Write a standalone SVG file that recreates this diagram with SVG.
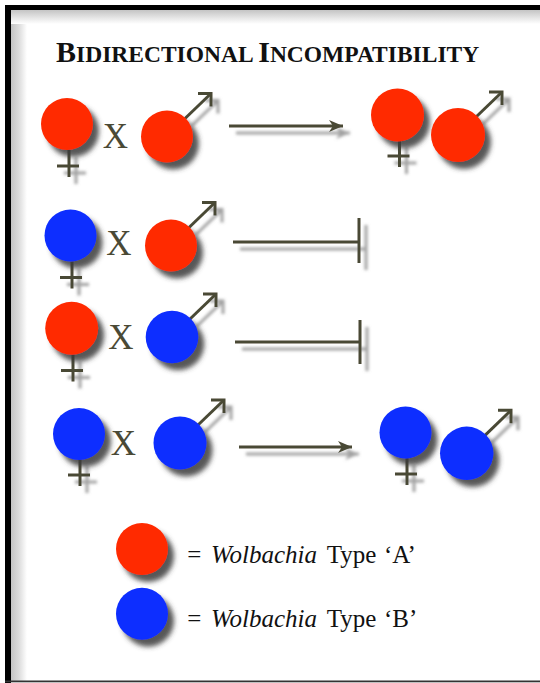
<svg xmlns="http://www.w3.org/2000/svg" width="540" height="683" viewBox="0 0 540 683">
<style>
.red{fill:#ff2a00}
.blue{fill:#0b2dff}
.sym{stroke:#4a4935;stroke-width:3;fill:none;stroke-linecap:butt}
.conn{stroke:#4a4935;stroke-width:3;fill:none}
.x{font-family:"Liberation Serif","Times New Roman",serif;font-size:35px;fill:#4a4935;text-anchor:middle}
.leg{font-family:"Liberation Serif","Times New Roman",serif;font-size:25px;fill:#111}
.title{font-family:"Liberation Serif","Times New Roman",serif;font-weight:bold;fill:#111}
</style>
<defs>
<linearGradient id="gl" x1="0" y1="0" x2="1" y2="0">
<stop offset="0" stop-color="#c4c4c4"/><stop offset="0.5" stop-color="#dcdcdc"/><stop offset="1" stop-color="#fff"/>
</linearGradient>
<linearGradient id="gt" x1="0" y1="0" x2="0" y2="1">
<stop offset="0" stop-color="#c4c4c4"/><stop offset="0.5" stop-color="#e2e2e2"/><stop offset="1" stop-color="#fff"/>
</linearGradient>
<filter id="sh" filterUnits="userSpaceOnUse" x="0" y="0" width="540" height="683">
<feGaussianBlur in="SourceAlpha" stdDeviation="2.5"/>
<feOffset dx="6" dy="7" result="b"/>
<feFlood flood-color="#3a3a3a" flood-opacity="0.85"/>
<feComposite in2="b" operator="in"/>
<feMerge><feMergeNode/><feMergeNode in="SourceGraphic"/></feMerge>
</filter>
<filter id="lsh" filterUnits="userSpaceOnUse" x="0" y="0" width="540" height="683">
<feGaussianBlur in="SourceAlpha" stdDeviation="1.5"/>
<feOffset dx="7" dy="7" result="b"/>
<feFlood flood-color="#8a8a8a" flood-opacity="0.8"/>
<feComposite in2="b" operator="in"/>
<feMerge><feMergeNode/><feMergeNode in="SourceGraphic"/></feMerge>
</filter>
<marker id="ah" markerUnits="userSpaceOnUse" viewBox="0 0 20 16" markerWidth="20" markerHeight="16" refX="17" refY="8" orient="auto">
<path d="M3,2 L17,8 L3,14 L7,8 Z" fill="#4a4935"/>
</marker>
<g id="fsym" class="sym">
<line x1="2" y1="26" x2="2" y2="53"/>
<line x1="-10" y1="42" x2="12" y2="42"/>
</g>
<g id="msym" class="sym">
<line x1="18" y1="-18" x2="44" y2="-43"/>
<polyline points="31,-43 44,-43 44,-30"/>
</g>
</defs>
<rect x="0" y="0" width="540" height="683" fill="#fff"/>
<rect x="11" y="10" width="16" height="671" fill="url(#gl)"/>
<rect x="11" y="10" width="529" height="14" fill="url(#gt)"/>
<rect x="5" y="5" width="535" height="5" fill="#000"/>
<rect x="5" y="5" width="6" height="678" fill="#000"/>
<rect x="5" y="680.5" width="535" height="1.8" fill="#333"/>

<text class="title" x="56" y="62"><tspan font-size="30">B</tspan><tspan font-size="23.5">IDIRECTIONAL </tspan><tspan font-size="30">I</tspan><tspan font-size="23.5">NCOMPATIBILITY</tspan></text>

<g id="connectors">
<line class="conn" filter="url(#lsh)" x1="229" y1="126" x2="343" y2="126" marker-end="url(#ah)"/>
<g filter="url(#lsh)">
<line class="conn" x1="233" y1="242" x2="359" y2="242"/>
<line class="conn" x1="359" y1="218" x2="359" y2="263"/>
</g>
<g filter="url(#lsh)">
<line class="conn" x1="235" y1="342" x2="360" y2="342"/>
<line class="conn" x1="360" y1="320" x2="360" y2="364"/>
</g>
<line class="conn" filter="url(#lsh)" x1="239" y1="447" x2="352" y2="447" marker-end="url(#ah)"/>
</g>

<g id="r1-female"><g filter="url(#lsh)"><use href="#fsym" x="67" y="124"/></g><circle class="red" cx="67" cy="124" r="26" filter="url(#sh)"/></g>
<text class="x" x="115.5" y="148">X</text>
<g id="r1-male"><g filter="url(#lsh)"><use href="#msym" x="167" y="136.5"/></g><circle class="red" cx="167" cy="136.5" r="26" filter="url(#sh)"/></g>
<g id="r1-offspring-female"><g filter="url(#lsh)"><use href="#fsym" x="397.5" y="114"/></g><circle class="red" cx="397.5" cy="115" r="26.5" filter="url(#sh)"/></g>
<g id="r1-offspring-male"><g filter="url(#lsh)"><use href="#msym" x="458" y="135"/></g><circle class="red" cx="458" cy="135" r="27" filter="url(#sh)"/></g>

<g id="r2-female"><g filter="url(#lsh)"><use href="#fsym" x="70" y="235.5"/></g><circle class="blue" cx="70.5" cy="235.5" r="26" filter="url(#sh)"/></g>
<text class="x" x="119" y="255">X</text>
<g id="r2-male"><g filter="url(#lsh)"><use href="#msym" x="171" y="245.5"/></g><circle class="red" cx="171" cy="245.5" r="26" filter="url(#sh)"/></g>

<g id="r3-female"><g filter="url(#lsh)"><use href="#fsym" x="71" y="328.5"/></g><circle class="red" cx="71.7" cy="328.3" r="26.5" filter="url(#sh)"/></g>
<text class="x" x="121" y="348.5">X</text>
<g id="r3-male"><g filter="url(#lsh)"><use href="#msym" x="172" y="337"/></g><circle class="blue" cx="172" cy="337" r="26.3" filter="url(#sh)"/></g>

<g id="r4-female"><g filter="url(#lsh)"><use href="#fsym" x="78" y="433"/></g><circle class="blue" cx="79" cy="434" r="26" filter="url(#sh)"/></g>
<text class="x" x="123.5" y="455">X</text>
<g id="r4-male"><g filter="url(#lsh)"><use href="#msym" x="180" y="443"/></g><circle class="blue" cx="180" cy="443" r="26.5" filter="url(#sh)"/></g>
<g id="r4-offspring-female"><g filter="url(#lsh)"><use href="#fsym" x="405" y="432"/></g><circle class="blue" cx="405.5" cy="432.5" r="26" filter="url(#sh)"/></g>
<g id="r4-offspring-male"><g filter="url(#lsh)"><use href="#msym" x="467" y="453.3"/></g><circle class="blue" cx="466.7" cy="453.3" r="26.7" filter="url(#sh)"/></g>

<g id="legend-a"><circle class="red" cx="142" cy="549" r="26" filter="url(#sh)"/>
<text class="leg" y="563.3"><tspan x="187.3">=</tspan><tspan x="211" font-style="italic">Wolbachia</tspan><tspan x="326.7">Type</tspan><tspan x="384">‘A’</tspan></text></g>
<g id="legend-b"><circle class="blue" cx="142" cy="613.7" r="26" filter="url(#sh)"/>
<text class="leg" y="626.7"><tspan x="187.3">=</tspan><tspan x="211" font-style="italic">Wolbachia</tspan><tspan x="326.7">Type</tspan><tspan x="384">‘B’</tspan></text></g>
</svg>
